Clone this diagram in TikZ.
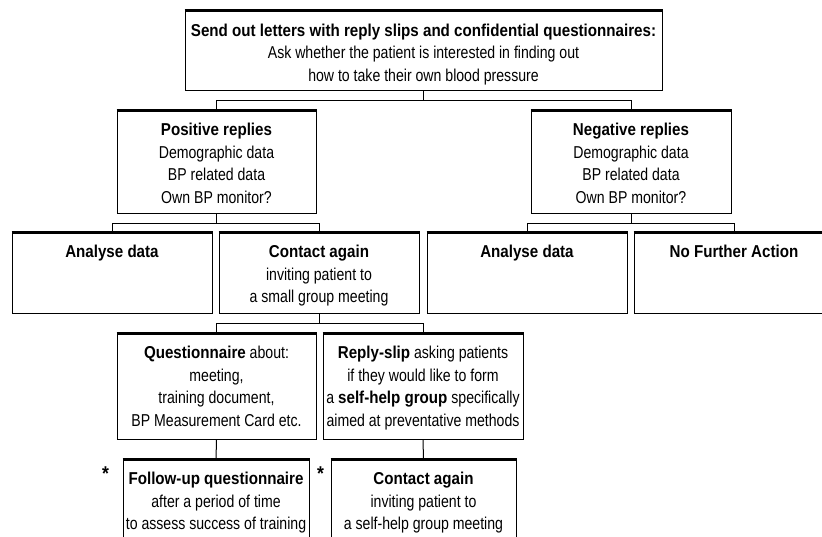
\documentclass[tikz,border=0pt]{standalone}
\usepackage{fontspec}
\setmainfont{Liberation Sans}[UprightFeatures={FakeStretch=0.82}, BoldFeatures={FakeStretch=0.88}]
\usetikzlibrary{fit}
\tikzset{
  box/.style={draw=black, line width=1pt, inner sep=0pt, fill=white},
  topedge/.style={draw=black, line width=2.2pt},
  conn/.style={draw=black, line width=1pt},
  txt/.style={align=center, inner sep=0pt, font=\fontsize{17.2}{22.6}\selectfont, anchor=base},
}
\newcommand{\mkbox}[5]{%
  \node[box, fit={(#2,#3) (#4,#5)}] (#1) {};
  \draw[topedge] (#1.north west) -- (#1.north east);}
\begin{document}
\begin{tikzpicture}[x=1pt,y=-1pt]
\useasboundingbox (0,0) rectangle (822,536);
\clip (0,0) rectangle (822,536);
% boxes
\mkbox{top}{185}{11}{662}{90}
\mkbox{pos}{117}{111}{316}{213}
\mkbox{neg}{531}{111}{731}{213}
\mkbox{adA}{12}{233}{212}{313}
\mkbox{caA}{219}{233}{419}{313}
\mkbox{adB}{427}{233}{627}{313}
\mkbox{nfa}{634}{233}{834}{313}
\mkbox{qst}{117}{334}{316}{439}
\mkbox{rsl}{323}{334}{523}{439}
\mkbox{fup}{123}{460}{309}{570}
\mkbox{caB}{331}{460}{516}{570}
% texts (anchor base = last line's baseline)
\node[txt] (top-t) at ([yshift=-70.9pt]top.north) {\textbf{Send out letters with reply slips and confidential questionnaires:}\\Ask whether the patient is interested in finding out\\how to take their own blood pressure};
\node[txt] (pos-t) at ([yshift=-92.8pt]pos.north) {\textbf{Positive replies}\\Demographic data\\BP related data\\Own BP monitor?};
\node[txt] (neg-t) at ([yshift=-92.8pt]neg.north) {\textbf{Negative replies}\\Demographic data\\BP related data\\Own BP monitor?};
\node[txt] (adA-t) at ([yshift=-25pt]adA.north) {\textbf{Analyse data}};
\node[txt] (caA-t) at ([yshift=-70.2pt]caA.north) {\textbf{Contact again}\\inviting patient to\\a small group meeting};
\node[txt] (adB-t) at ([yshift=-25pt]adB.north) {\textbf{Analyse data}};
\node[txt] (nfa-t) at ([yshift=-25pt]nfa.north) {\textbf{No Further Action}};
\node[txt] (qst-t) at ([yshift=-92.8pt]qst.north) {\textbf{Questionnaire} about:\\meeting,\\training document,\\BP Measurement Card etc.};
\node[txt] (rsl-t) at ([yshift=-92.8pt]rsl.north) {\textbf{Reply-slip} asking patients\\if they would like to form\\a \textbf{self-help group} specifically\\aimed at preventative methods};
\node[txt] (fup-t) at ([yshift=-70.2pt]fup.north) {\textbf{Follow-up questionnaire}\\after a period of time\\to assess success of training};
\node[txt] (caB-t) at ([yshift=-70.2pt]caB.north) {\textbf{Contact again}\\inviting patient to\\a self-help group meeting};
\node[txt, font=\fontsize{20}{22}\selectfont\bfseries] (starA) at (105.5,480) {*};
\node[txt, font=\fontsize{20}{22}\selectfont\bfseries] (starB) at (320.5,480) {*};
% connectors
\coordinate (j1) at (top.south |- 0,100);
\coordinate (j2) at (pos.south |- 0,223);
\coordinate (j3) at (neg.south |- 0,223);
\coordinate (j4) at (caA.south |- 0,323);
\draw[conn] (top.south) -- (j1) -| (pos.north);
\draw[conn] (j1) -| (neg.north);
\draw[conn] (pos.south) -- (j2) -| (adA.north);
\draw[conn] (j2) -| (caA.north);
\draw[conn] (neg.south) -- (j3) -| (adB.north);
\draw[conn] (j3) -| (nfa.north);
\draw[conn] (caA.south) -- (j4) -| (qst.north);
\draw[conn] (j4) -| (rsl.north);
\draw[conn] (qst.south) -- (fup.north);
\draw[conn] (rsl.south) -- (caB.north);
\end{tikzpicture}
\end{document}
